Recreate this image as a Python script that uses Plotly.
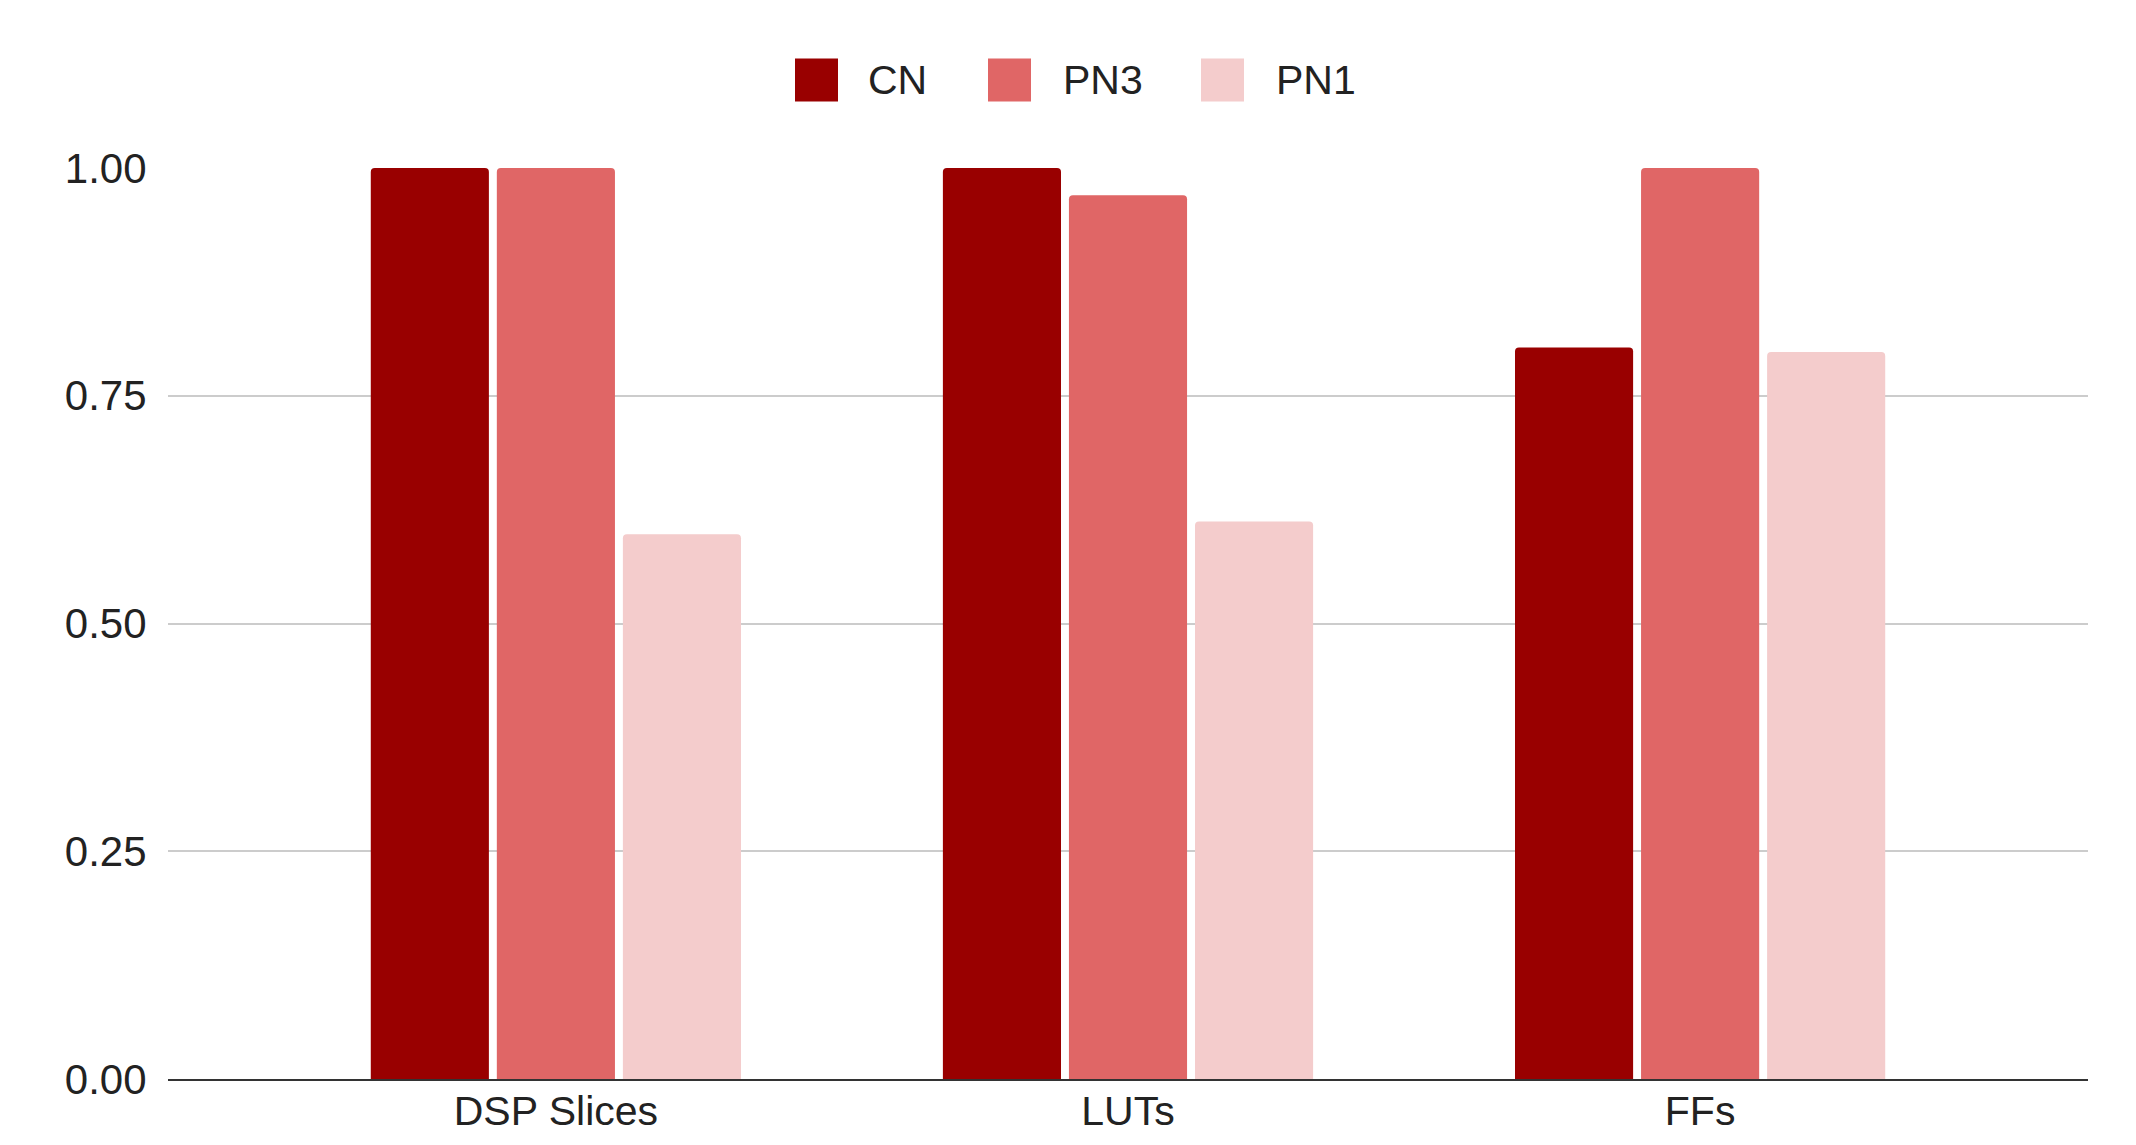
import plotly.graph_objects as go

categories = ["DSP Slices", "LUTs", "FFs"]
series_names = ["CN", "PN3", "PN1"]
cn_values = [1.0, 1.0, 0.803]
pn3_values = [1.0, 0.97, 1.0]
pn1_values = [0.598, 0.612, 0.798]
colors = ["#990000", "#E06666", "#F4CCCC"]
y_ticks = [0, 0.25, 0.5, 0.75, 1.0]

# page body has an 8px margin; size the figure so it fits the 2136x1145 window
OFF = 8
W, H = 2136 - 2 * OFF, 1145 - 2 * OFF
ML, MR, MT, MB = 168 - OFF, 48 - OFF, 168 - OFF, 66 - OFF
PW, PH = W - ML - MR, H - MT - MB

FONT = "Liberation Sans, Arial, Helvetica, sans-serif"
TXT = "#222222"

fig = go.Figure()
for name, vals, col in zip(series_names, [cn_values, pn3_values, pn1_values], colors):
    fig.add_trace(go.Bar(name=name, x=categories, y=vals,
                         marker=dict(color=col, line=dict(width=0), cornerradius=4),
                         showlegend=False))

# manual legend (large rounded squares like the reference); page-pixel positions
legend_square_x = [795, 988, 1201]
legend_text_x = [866, 1061, 1274]
legend_cy = 80
sq = 43
def px2paper_x(px):
    return (px - OFF - ML) / PW
def px2paper_y(py):
    return (OFF + H - MB - py) / PH

shapes = []
annotations = []
for name, col, sx, tx in zip(series_names, colors, legend_square_x, legend_text_x):
    shapes.append(dict(type="rect", xref="paper", yref="paper",
                       x0=px2paper_x(sx), x1=px2paper_x(sx + sq),
                       y0=px2paper_y(legend_cy + sq / 2), y1=px2paper_y(legend_cy - sq / 2),
                       fillcolor=col, line=dict(width=0), layer="above"))
    annotations.append(dict(xref="paper", yref="paper", x=px2paper_x(tx), y=px2paper_y(legend_cy),
                            text=name, showarrow=False, xanchor="left", yanchor="middle",
                            font=dict(family=FONT, size=41, color=TXT)))

fig.update_layout(
    width=W, height=H,
    margin=dict(l=ML, r=MR, t=MT, b=MB, pad=0, autoexpand=False),
    paper_bgcolor="white", plot_bgcolor="white",
    barmode="group", bargap=0.339, bargroupgap=0.063,
    font=dict(family=FONT, size=42, color=TXT),
    shapes=shapes, annotations=annotations,
    showlegend=False,
)
fig.update_xaxes(type="category", range=[-0.678, 2.678], showgrid=False,
                 showline=True, linecolor="#333333", linewidth=2,
                 ticks="", ticklen=0, ticklabelstandoff=-5, automargin=False,
                 tickfont=dict(family=FONT, size=41, color=TXT), fixedrange=True)
fig.update_yaxes(range=[0, 1], tickvals=y_ticks, tickformat=".2f",
                 showgrid=True, gridcolor="#cccccc", gridwidth=2,
                 zeroline=False, showline=False, automargin=False,
                 ticks="outside", ticklen=12, tickcolor="rgba(0,0,0,0)",
                 tickfont=dict(family=FONT, size=42, color=TXT), fixedrange=True)

fig.write_html("out.html")
